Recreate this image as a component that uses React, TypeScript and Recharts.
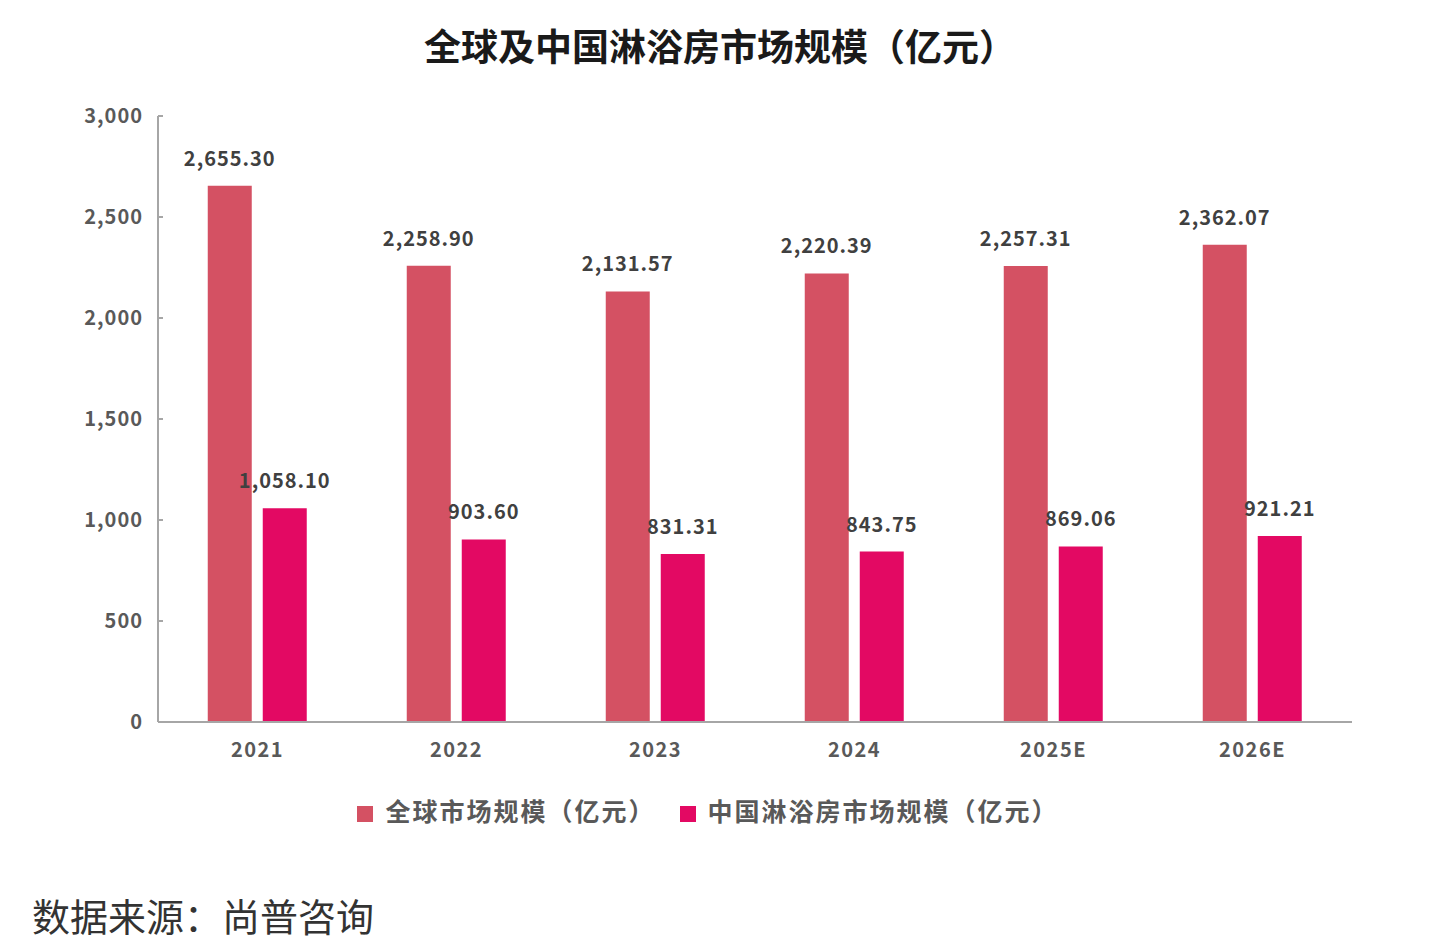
import React from 'react';
import { BarChart, Bar, XAxis, YAxis, Legend, LabelList } from 'recharts';

const years = ['2021', '2022', '2023', '2024', '2025E', '2026E'];
const globalSize = [2655.3, 2258.9, 2131.57, 2220.39, 2257.31, 2362.07];
const chinaSize = [1058.1, 903.6, 831.31, 843.75, 869.06, 921.21];
const yTicks = [0, 500, 1000, 1500, 2000, 2500, 3000];

const data = years.map((year, i) => ({
  year,
  global: globalSize[i],
  china: chinaSize[i],
}));

const FONT = "'Noto Sans CJK SC', 'Noto Sans', sans-serif";
const fmt2 = (v: number) =>
  v.toLocaleString('en-US', { minimumFractionDigits: 2, maximumFractionDigits: 2 });

const labelStyle = { fill: '#404040', fontSize: 20, fontWeight: 700, fontFamily: FONT, letterSpacing: 1 };
const tickStyle = { fill: '#595959', fontSize: 20, fontWeight: 700, fontFamily: FONT, letterSpacing: 1 };

export default function App() {
  return (
    <div style={{ position: 'absolute', left: 0, top: 0, width: 1440, height: 941, background: '#fff' }}>
      <div
        style={{
          position: 'absolute',
          top: 21,
          left: 0,
          width: 1440,
          textAlign: 'center',
          fontSize: 37,
          fontWeight: 700,
          color: '#1a1a1a',
          fontFamily: FONT,
          lineHeight: '48px',
        }}
      >
        全球及中国淋浴房市场规模（亿元）
      </div>
      <div style={{ position: 'absolute', top: 0, left: 0 }}>
        <BarChart
          width={1440}
          height={780}
          data={data}
          margin={{ top: 116, right: 88, left: 0, bottom: 18 }}
          barCategoryGap="25%"
          barGap={11}
        >
          <XAxis
            dataKey="year"
            axisLine={{ stroke: '#a6a6a6', strokeWidth: 2 }}
            tickLine={false}
            tickSize={0}
            tickMargin={21}
            height={40}
            tick={{ ...tickStyle, letterSpacing: 1.5 }}
          />
          <YAxis
            width={158}
            domain={[0, 3000]}
            ticks={yTicks}
            interval={0}
            axisLine={{ stroke: '#a6a6a6', strokeWidth: 2 }}
            tickLine={{ stroke: '#a6a6a6', strokeWidth: 2 }}
            tickSize={-5}
            tickMargin={20}
            tickFormatter={(v: number) => v.toLocaleString('en-US')}
            tick={tickStyle}
          />
          <Legend
            layout="horizontal"
            verticalAlign="middle"
            align="center"
            iconType="square"
            iconSize={16}
            itemSorter={(item: any) => (item.dataKey === 'global' ? 0 : 1)}
            wrapperStyle={{ top: 792, left: 0, width: 1440, fontFamily: FONT, fontSize: 25, fontWeight: 700 }}
            formatter={(value: string) => (
              <span style={{ color: '#595959', marginLeft: 8, marginRight: 14, letterSpacing: 2 }}>{value}</span>
            )}
          />
          <Bar dataKey="global" name="全球市场规模（亿元）" fill="#d45163" isAnimationActive={false}>
            <LabelList
              dataKey="global"
              position="top"
              offset={20}
              formatter={(v: number) => fmt2(v)}
              style={labelStyle}
            />
          </Bar>
          <Bar dataKey="china" name="中国淋浴房市场规模（亿元）" fill="#e30963" isAnimationActive={false}>
            <LabelList
              dataKey="china"
              position="top"
              offset={20}
              formatter={(v: number) => fmt2(v)}
              style={labelStyle}
            />
          </Bar>
        </BarChart>
      </div>
      <div
        style={{
          position: 'absolute',
          top: 890,
          left: 32,
          fontSize: 38,
          color: '#333',
          fontFamily: FONT,
          lineHeight: '50px',
        }}
      >
        数据来源：尚普咨询
      </div>
    </div>
  );
}
